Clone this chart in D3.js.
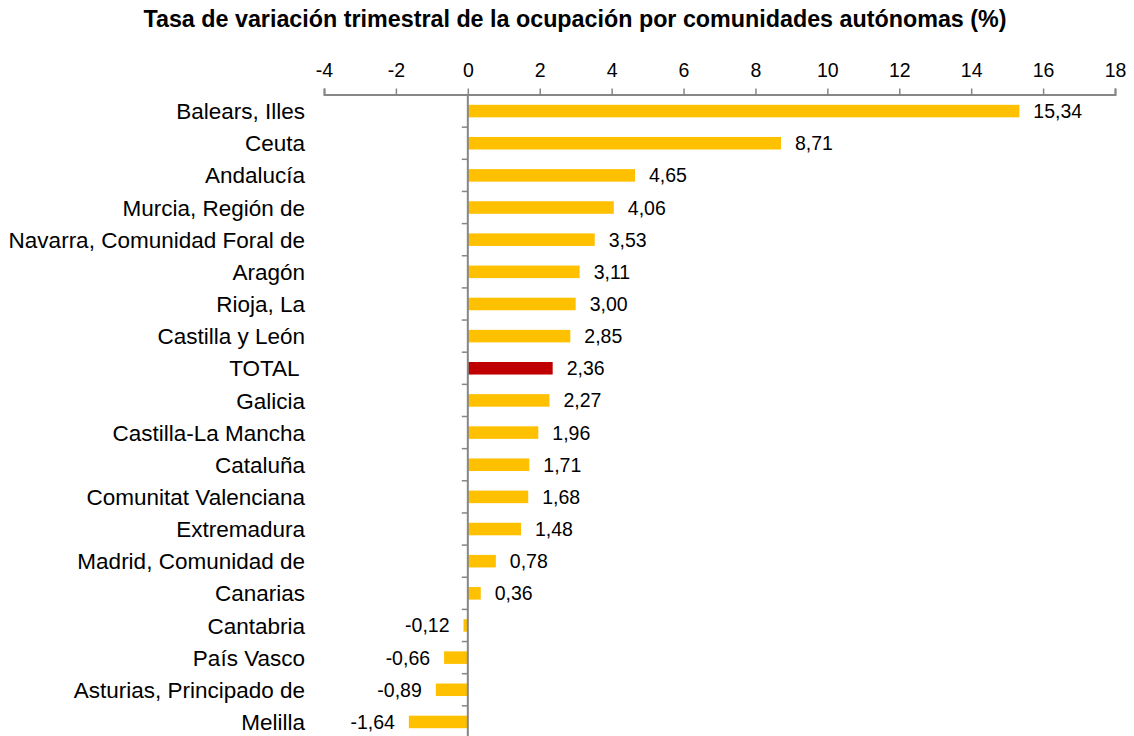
<!DOCTYPE html>
<html>
<head>
<meta charset="utf-8">
<script src="https://cdn.jsdelivr.net/npm/d3@7"></script>
<style>
body { margin: 0; background: #fff; }
svg text { font-family: "Liberation Sans", Arial, sans-serif; fill: #000; }
</style>
</head>
<body>
<div id="chart"></div>
<script>
var regiones = ["Balears, Illes", "Ceuta", "Andalucía", "Murcia, Región de",
  "Navarra, Comunidad Foral de", "Aragón", "Rioja, La", "Castilla y León", "TOTAL ",
  "Galicia", "Castilla-La Mancha", "Cataluña", "Comunitat Valenciana", "Extremadura",
  "Madrid, Comunidad de", "Canarias", "Cantabria", "País Vasco",
  "Asturias, Principado de", "Melilla"];
var tasas = [15.34, 8.71, 4.65, 4.06, 3.53, 3.11, 3.00, 2.85, 2.36, 2.27, 1.96, 1.71,
  1.68, 1.48, 0.78, 0.36, -0.12, -0.66, -0.89, -1.64];
var ticks = [-4, -2, 0, 2, 4, 6, 8, 10, 12, 14, 16, 18];
var titulo = "Tasa de variación trimestral de la ocupación por comunidades autónomas (%)";

var data = regiones.map(function(d, i){ return {name: d, value: tasas[i]}; });

var width = 1134, height = 736;
var svg = d3.select("#chart").append("svg")
  .attr("width", width).attr("height", height);

var x = d3.scaleLinear().domain([-4, 18]).range([324, 1115]);
var y = d3.scaleBand().domain(regiones).range([95, 738]).paddingInner(0.61).paddingOuter(0.305);
var axisColor = "#868686";
var fmt = function(v){ return v.toFixed(2).replace(".", ","); };

svg.append("text")
  .attr("x", 575).attr("y", 27)
  .attr("text-anchor", "middle")
  .style("font-weight", "bold").style("font-size", "23.3px")
  .text(titulo);

// top axis
var xAxis = svg.append("g").attr("transform", "translate(0,94.5)")
  .call(d3.axisTop(x).tickValues(ticks).tickSize(6).tickPadding(11.5)
    .tickFormat(function(d){ return String(d); }));
xAxis.select(".domain").attr("stroke", axisColor).attr("stroke-width", 2);
xAxis.selectAll(".tick line").attr("stroke", axisColor).attr("stroke-width", 1.5);
xAxis.selectAll("text").style("font-size", "19.5px").attr("fill", "#000");

// bars
svg.selectAll("rect.bar").data(data).enter().append("rect")
  .attr("class", "bar")
  .attr("x", function(d){ return x(Math.min(0, d.value)); })
  .attr("width", function(d){ return Math.abs(x(d.value) - x(0)); })
  .attr("y", function(d){ return y(d.name); })
  .attr("height", y.bandwidth())
  .attr("fill", function(d){ return d.name.trim() === "TOTAL" ? "#C00000" : "#FFC000"; });

// value labels
svg.selectAll("text.val").data(data).enter().append("text")
  .attr("class", "val")
  .attr("x", function(d){ return d.value >= 0 ? x(d.value) + 14 : x(d.value) - 14; })
  .attr("y", function(d){ return y(d.name) + y.bandwidth() / 2; })
  .attr("dy", "0.36em")
  .attr("text-anchor", function(d){ return d.value >= 0 ? "start" : "end"; })
  .style("font-size", "19.5px")
  .text(function(d){ return fmt(d.value); });

// vertical axis at zero
var step = y.step();
svg.append("line")
  .attr("x1", x(0)).attr("x2", x(0))
  .attr("y1", 94.5).attr("y2", 738)
  .attr("stroke", axisColor).attr("stroke-width", 2);
svg.selectAll("line.ytick").data(d3.range(1, regiones.length + 1)).enter().append("line")
  .attr("class", "ytick")
  .attr("x1", x(0) - 6).attr("x2", x(0))
  .attr("y1", function(i){ return 95 + i * step; })
  .attr("y2", function(i){ return 95 + i * step; })
  .attr("stroke", axisColor).attr("stroke-width", 1.5);

// category labels
svg.selectAll("text.cat").data(data).enter().append("text")
  .attr("class", "cat")
  .attr("x", 305)
  .attr("y", function(d){ return y(d.name) + y.bandwidth() / 2; })
  .attr("dy", "0.36em")
  .attr("text-anchor", "end")
  .style("font-size", "22.5px")
  .style("white-space", "pre")
  .text(function(d){ return d.name; });
</script>
</body>
</html>
